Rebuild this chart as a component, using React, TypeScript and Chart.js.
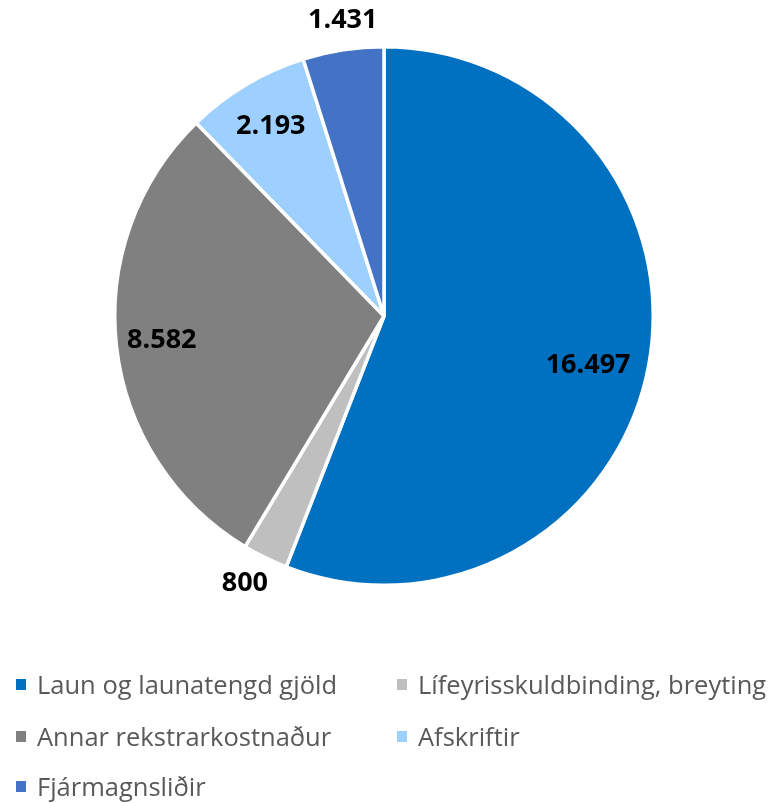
import React, { useEffect, useRef } from "react";
import { Chart, registerables } from "chart.js";

Chart.register(...registerables);

const categories = [
  "Laun og launatengd gjöld",
  "Lífeyrisskuldbinding, breyting",
  "Annar rekstrarkostnaður",
  "Afskriftir",
  "Fjármagnsliðir",
];
const values = [16497, 800, 8582, 2193, 1431];
const colors = ["#0070C0", "#BFBFBF", "#808080", "#9DCFFF", "#4472C4"];
// placement of each value label: radial fraction of the pie radius, and angle shift in degrees
const labelRadius = [0.78, 1.12, 0.83, 0.82, 1.11];
const labelShift = [3, 1.3, 0.4, 0, 0.8];

const fmt = (v: number) => String(v).replace(/\B(?=(\d{3})+(?!\d))/g, ".");

const labelPlugin = {
  id: "valueLabels",
  afterDatasetsDraw(chart: any) {
    const ctx = chart.ctx;
    const meta = chart.getDatasetMeta(0);
    ctx.save();
    ctx.font = "bold 27px 'Open Sans'";
    ctx.fillStyle = "#000";
    ctx.textAlign = "center";
    ctx.textBaseline = "middle";
    meta.data.forEach((arc: any, i: number) => {
      const mid = (arc.startAngle + arc.endAngle) / 2 + (labelShift[i] * Math.PI) / 180;
      const r = arc.outerRadius * labelRadius[i];
      ctx.fillText(fmt(values[i]), arc.x + Math.cos(mid) * r, arc.y + Math.sin(mid) * r);
    });
    ctx.restore();
  },
};

export default function App() {
  const ref = useRef<HTMLCanvasElement>(null);
  useEffect(() => {
    const chart = new Chart(ref.current!, {
      type: "pie",
      data: {
        labels: categories,
        datasets: [
          {
            data: values,
            backgroundColor: colors,
            borderColor: "#ffffff",
            borderWidth: 3.5,
          },
        ],
      },
      options: {
        responsive: false,
        animation: false,
        events: [],
        layout: { padding: { top: 44, bottom: 215, left: 113, right: 115 } },
        plugins: { legend: { display: false }, tooltip: { enabled: false } },
      },
      plugins: [labelPlugin],
    });
    return () => chart.destroy();
  }, []);

  const legendPos = [
    { x: 16, y: 684 },
    { x: 397, y: 684 },
    { x: 16, y: 736 },
    { x: 397, y: 736 },
    { x: 16, y: 786 },
  ];

  return (
    <div style={{ position: "absolute", left: 0, top: 0, width: 770, height: 803, background: "#fff" }}>
      <canvas ref={ref} width={770} height={803} style={{ position: "absolute", left: 0, top: 0 }} />
      {categories.map((c, i) => (
        <div
          key={c}
          style={{
            position: "absolute",
            left: legendPos[i].x,
            top: legendPos[i].y - 18,
            height: 36,
            display: "flex",
            alignItems: "center",
            fontFamily: "'Open Sans'",
            fontSize: 25.5,
            color: "#595959",
            whiteSpace: "nowrap",
          }}
        >
          <span style={{ display: "inline-block", width: 10, height: 11, background: colors[i], marginRight: 11 }} />
          <span>{c}</span>
        </div>
      ))}
    </div>
  );
}
